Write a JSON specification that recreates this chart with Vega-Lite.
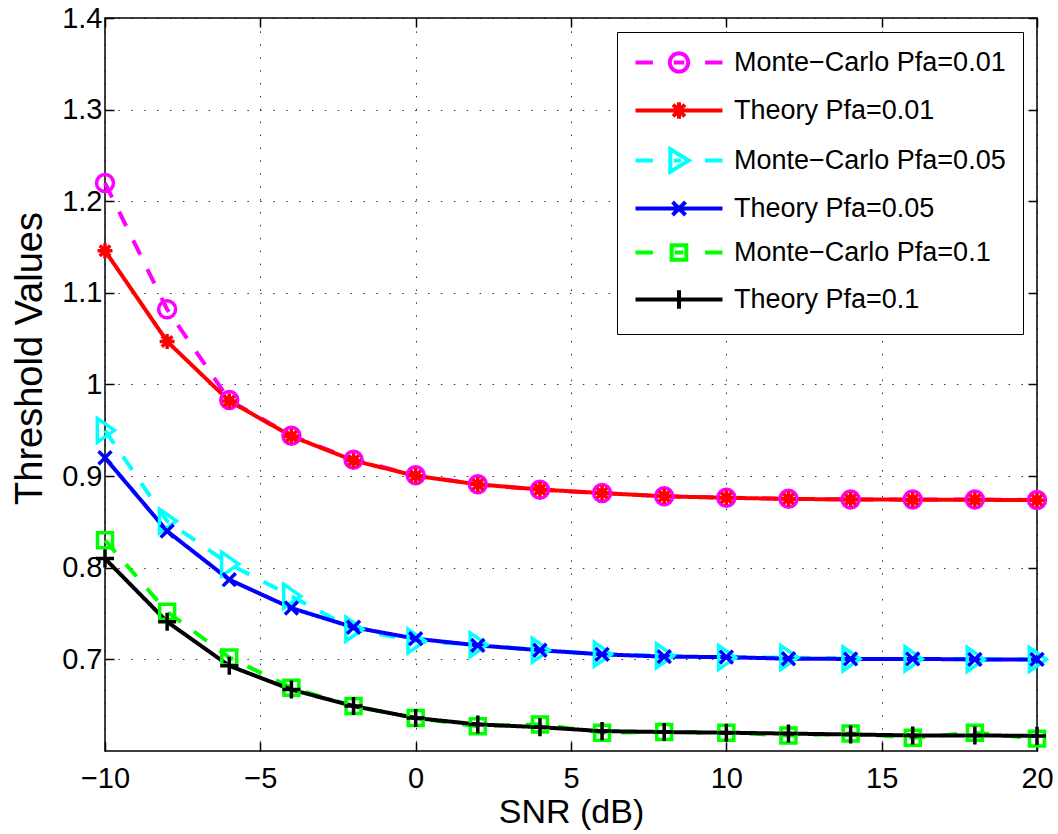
{
  "$schema": "https://vega.github.io/schema/vega-lite/v6.json",
  "width": 932,
  "height": 733,
  "autosize": {"type": "none"},
  "padding": {"left": 105, "top": 18, "right": 21, "bottom": 83},
  "background": "white",
  "config": {
    "view": {"stroke": "black", "strokeWidth": 1.5},
    "font": "Liberation Sans",
    "axis": {
      "labelFont": "Liberation Sans",
      "labelFontSize": 29,
      "labelColor": "black",
      "labelFlush": false,
      "labelOverlap": false,
      "titleFont": "Liberation Sans",
      "titleFontWeight": "normal",
      "titleColor": "black",
      "tickColor": "black",
      "tickWidth": 1.5,
      "tickSize": -9,
      "domain": false,
      "gridColor": "black",
      "gridDash": [1.5, 11.4],
      "gridWidth": 1,
      "gridOpacity": 0.8
    }
  },
  "data": {
    "values": [
      {"snr": -10, "threshold": 1.220, "series": "Monte−Carlo Pfa=0.01"},
      {"snr": -8, "threshold": 1.082, "series": "Monte−Carlo Pfa=0.01"},
      {"snr": -6, "threshold": 0.983, "series": "Monte−Carlo Pfa=0.01"},
      {"snr": -4, "threshold": 0.944, "series": "Monte−Carlo Pfa=0.01"},
      {"snr": -2, "threshold": 0.918, "series": "Monte−Carlo Pfa=0.01"},
      {"snr": 0, "threshold": 0.901, "series": "Monte−Carlo Pfa=0.01"},
      {"snr": 2, "threshold": 0.891, "series": "Monte−Carlo Pfa=0.01"},
      {"snr": 4, "threshold": 0.885, "series": "Monte−Carlo Pfa=0.01"},
      {"snr": 6, "threshold": 0.8815, "series": "Monte−Carlo Pfa=0.01"},
      {"snr": 8, "threshold": 0.878, "series": "Monte−Carlo Pfa=0.01"},
      {"snr": 10, "threshold": 0.8765, "series": "Monte−Carlo Pfa=0.01"},
      {"snr": 12, "threshold": 0.8752, "series": "Monte−Carlo Pfa=0.01"},
      {"snr": 14, "threshold": 0.8745, "series": "Monte−Carlo Pfa=0.01"},
      {"snr": 16, "threshold": 0.8745, "series": "Monte−Carlo Pfa=0.01"},
      {"snr": 18, "threshold": 0.8744, "series": "Monte−Carlo Pfa=0.01"},
      {"snr": 20, "threshold": 0.874, "series": "Monte−Carlo Pfa=0.01"},
      {"snr": -10, "threshold": 1.146, "series": "Theory Pfa=0.01"},
      {"snr": -8, "threshold": 1.047, "series": "Theory Pfa=0.01"},
      {"snr": -6, "threshold": 0.982, "series": "Theory Pfa=0.01"},
      {"snr": -4, "threshold": 0.9436, "series": "Theory Pfa=0.01"},
      {"snr": -2, "threshold": 0.917, "series": "Theory Pfa=0.01"},
      {"snr": 0, "threshold": 0.9003, "series": "Theory Pfa=0.01"},
      {"snr": 2, "threshold": 0.891, "series": "Theory Pfa=0.01"},
      {"snr": 4, "threshold": 0.8854, "series": "Theory Pfa=0.01"},
      {"snr": 6, "threshold": 0.8815, "series": "Theory Pfa=0.01"},
      {"snr": 8, "threshold": 0.878, "series": "Theory Pfa=0.01"},
      {"snr": 10, "threshold": 0.8763, "series": "Theory Pfa=0.01"},
      {"snr": 12, "threshold": 0.8752, "series": "Theory Pfa=0.01"},
      {"snr": 14, "threshold": 0.8745, "series": "Theory Pfa=0.01"},
      {"snr": 16, "threshold": 0.8743, "series": "Theory Pfa=0.01"},
      {"snr": 18, "threshold": 0.8742, "series": "Theory Pfa=0.01"},
      {"snr": 20, "threshold": 0.8738, "series": "Theory Pfa=0.01"},
      {"snr": -10, "threshold": 0.950, "series": "Monte−Carlo Pfa=0.05"},
      {"snr": -8, "threshold": 0.851, "series": "Monte−Carlo Pfa=0.05"},
      {"snr": -6, "threshold": 0.804, "series": "Monte−Carlo Pfa=0.05"},
      {"snr": -4, "threshold": 0.769, "series": "Monte−Carlo Pfa=0.05"},
      {"snr": -2, "threshold": 0.733, "series": "Monte−Carlo Pfa=0.05"},
      {"snr": 0, "threshold": 0.720, "series": "Monte−Carlo Pfa=0.05"},
      {"snr": 2, "threshold": 0.716, "series": "Monte−Carlo Pfa=0.05"},
      {"snr": 4, "threshold": 0.710, "series": "Monte−Carlo Pfa=0.05"},
      {"snr": 6, "threshold": 0.7055, "series": "Monte−Carlo Pfa=0.05"},
      {"snr": 8, "threshold": 0.704, "series": "Monte−Carlo Pfa=0.05"},
      {"snr": 10, "threshold": 0.702, "series": "Monte−Carlo Pfa=0.05"},
      {"snr": 12, "threshold": 0.702, "series": "Monte−Carlo Pfa=0.05"},
      {"snr": 14, "threshold": 0.7005, "series": "Monte−Carlo Pfa=0.05"},
      {"snr": 16, "threshold": 0.7005, "series": "Monte−Carlo Pfa=0.05"},
      {"snr": 18, "threshold": 0.700, "series": "Monte−Carlo Pfa=0.05"},
      {"snr": 20, "threshold": 0.700, "series": "Monte−Carlo Pfa=0.05"},
      {"snr": -10, "threshold": 0.920, "series": "Theory Pfa=0.05"},
      {"snr": -8, "threshold": 0.840, "series": "Theory Pfa=0.05"},
      {"snr": -6, "threshold": 0.787, "series": "Theory Pfa=0.05"},
      {"snr": -4, "threshold": 0.756, "series": "Theory Pfa=0.05"},
      {"snr": -2, "threshold": 0.735, "series": "Theory Pfa=0.05"},
      {"snr": 0, "threshold": 0.7226, "series": "Theory Pfa=0.05"},
      {"snr": 2, "threshold": 0.7153, "series": "Theory Pfa=0.05"},
      {"snr": 4, "threshold": 0.710, "series": "Theory Pfa=0.05"},
      {"snr": 6, "threshold": 0.7055, "series": "Theory Pfa=0.05"},
      {"snr": 8, "threshold": 0.703, "series": "Theory Pfa=0.05"},
      {"snr": 10, "threshold": 0.7025, "series": "Theory Pfa=0.05"},
      {"snr": 12, "threshold": 0.7007, "series": "Theory Pfa=0.05"},
      {"snr": 14, "threshold": 0.7005, "series": "Theory Pfa=0.05"},
      {"snr": 16, "threshold": 0.7005, "series": "Theory Pfa=0.05"},
      {"snr": 18, "threshold": 0.700, "series": "Theory Pfa=0.05"},
      {"snr": 20, "threshold": 0.700, "series": "Theory Pfa=0.05"},
      {"snr": -10, "threshold": 0.830, "series": "Monte−Carlo Pfa=0.1"},
      {"snr": -8, "threshold": 0.752, "series": "Monte−Carlo Pfa=0.1"},
      {"snr": -6, "threshold": 0.702, "series": "Monte−Carlo Pfa=0.1"},
      {"snr": -4, "threshold": 0.669, "series": "Monte−Carlo Pfa=0.1"},
      {"snr": -2, "threshold": 0.649, "series": "Monte−Carlo Pfa=0.1"},
      {"snr": 0, "threshold": 0.636, "series": "Monte−Carlo Pfa=0.1"},
      {"snr": 2, "threshold": 0.627, "series": "Monte−Carlo Pfa=0.1"},
      {"snr": 4, "threshold": 0.629, "series": "Monte−Carlo Pfa=0.1"},
      {"snr": 6, "threshold": 0.620, "series": "Monte−Carlo Pfa=0.1"},
      {"snr": 8, "threshold": 0.6207, "series": "Monte−Carlo Pfa=0.1"},
      {"snr": 10, "threshold": 0.620, "series": "Monte−Carlo Pfa=0.1"},
      {"snr": 12, "threshold": 0.617, "series": "Monte−Carlo Pfa=0.1"},
      {"snr": 14, "threshold": 0.619, "series": "Monte−Carlo Pfa=0.1"},
      {"snr": 16, "threshold": 0.6145, "series": "Monte−Carlo Pfa=0.1"},
      {"snr": 18, "threshold": 0.620, "series": "Monte−Carlo Pfa=0.1"},
      {"snr": 20, "threshold": 0.6135, "series": "Monte−Carlo Pfa=0.1"},
      {"snr": -10, "threshold": 0.810, "series": "Theory Pfa=0.1"},
      {"snr": -8, "threshold": 0.741, "series": "Theory Pfa=0.1"},
      {"snr": -6, "threshold": 0.693, "series": "Theory Pfa=0.1"},
      {"snr": -4, "threshold": 0.667, "series": "Theory Pfa=0.1"},
      {"snr": -2, "threshold": 0.649, "series": "Theory Pfa=0.1"},
      {"snr": 0, "threshold": 0.636, "series": "Theory Pfa=0.1"},
      {"snr": 2, "threshold": 0.629, "series": "Theory Pfa=0.1"},
      {"snr": 4, "threshold": 0.626, "series": "Theory Pfa=0.1"},
      {"snr": 6, "threshold": 0.6217, "series": "Theory Pfa=0.1"},
      {"snr": 8, "threshold": 0.6207, "series": "Theory Pfa=0.1"},
      {"snr": 10, "threshold": 0.620, "series": "Theory Pfa=0.1"},
      {"snr": 12, "threshold": 0.619, "series": "Theory Pfa=0.1"},
      {"snr": 14, "threshold": 0.618, "series": "Theory Pfa=0.1"},
      {"snr": 16, "threshold": 0.617, "series": "Theory Pfa=0.1"},
      {"snr": 18, "threshold": 0.617, "series": "Theory Pfa=0.1"},
      {"snr": 20, "threshold": 0.6165, "series": "Theory Pfa=0.1"}
    ]
  },
  "layer": [
    {
      "mark": {"type": "line", "strokeWidth": 4},
      "encoding": {
        "x": {
          "field": "snr", "type": "quantitative",
          "scale": {"domain": [-10, 20], "nice": false, "zero": false},
          "axis": {"orient": "bottom", "values": [-10, -5, 0, 5, 10, 15, 20], "grid": true, "title": "SNR (dB)", "titleFontSize": 34, "labelPadding": 22, "titlePadding": 2}
        },
        "y": {
          "field": "threshold", "type": "quantitative",
          "scale": {"domain": [0.6, 1.4], "nice": false, "zero": false},
          "axis": {"orient": "left", "values": [0.7, 0.8, 0.9, 1.0, 1.1, 1.2, 1.3, 1.4], "format": "~g", "grid": true, "title": "Threshold Values", "titleFontSize": 38, "labelPadding": 12, "titlePadding": 12, "titleY": 340}
        },
        "color": {
          "field": "series", "type": "nominal",
          "scale": {
            "domain": ["Monte−Carlo Pfa=0.01", "Theory Pfa=0.01", "Monte−Carlo Pfa=0.05", "Theory Pfa=0.05", "Monte−Carlo Pfa=0.1", "Theory Pfa=0.1"],
            "range": ["#ff00ff", "#ff0000", "#00ffff", "#0000ff", "#00ff00", "#000000"]
          },
          "legend": {
            "title": null,
            "orient": "top-right",
            "offset": 14,
            "padding": 17,
            "fillColor": "white",
            "strokeColor": "black",
            "symbolSize": 400,
            "symbolStrokeWidth": 4,
            "symbolOffset": 31.5,
            "symbolFillColor": "transparent",
            "labelFont": "Liberation Sans",
            "labelFontSize": 27,
            "labelColor": "black",
            "labelOffset": 41.5,
            "labelLimit": 500,
            "rowPadding": 14,
            "encode": {
              "symbols": {
                "update": {
                  "shape": {"signal": "datum.value === 'Monte−Carlo Pfa=0.01' ? 'M-4.35,0H-2.61M2.61,0H4.35M-0.915,0A0.915,0.915,0,1,0,0.915,0A0.915,0.915,0,1,0,-0.915,0M-0.525,0H0.525' : datum.value === 'Theory Pfa=0.01' ? 'M-4.35,0H4.35M0,-0.825V0.825M-0.585,-0.585L0.585,0.585M-0.585,0.585L0.585,-0.585' : datum.value === 'Monte−Carlo Pfa=0.05' ? 'M-4.35,0H-2.61M2.61,0H4.35M-0.87,-1.125L0.96,0L-0.87,1.125ZM-0.525,0H0.225' : datum.value === 'Theory Pfa=0.05' ? 'M-4.35,0H4.35M-0.65,-0.65L0.65,0.65M-0.65,0.65L0.65,-0.65' : datum.value === 'Monte−Carlo Pfa=0.1' ? 'M-4.35,0H-2.61M2.61,0H4.35M-0.735,-0.735H0.735V0.735H-0.735ZM-0.435,0H0.435' : 'M-4.35,0H4.35M0,-0.915V0.915'"},
                  "strokeWidth": {"value": 4},
                  "strokeDash": {"value": [1, 0]}
                }
              }
            }
          }
        },
        "strokeDash": {
          "condition": {"test": "indexof(datum.series, 'Monte') >= 0", "value": [16, 16]},
          "value": [1, 0]
        }
      }
    },
    {
      "mark": {"type": "point", "filled": false, "strokeWidth": 3.5, "opacity": 1, "size": 289},
      "encoding": {
        "x": {
          "field": "snr", "type": "quantitative",
          "axis": {"orient": "top", "values": [-10, -5, 0, 5, 10, 15, 20], "labels": false, "grid": false, "title": null}
        },
        "y": {
          "field": "threshold", "type": "quantitative",
          "axis": {"orient": "right", "values": [0.7, 0.8, 0.9, 1.0, 1.1, 1.2, 1.3, 1.4], "labels": false, "grid": false, "title": null}
        },
        "color": {"field": "series", "type": "nominal", "legend": null},
        "shape": {
          "condition": [
            {"test": "datum.series === 'Monte−Carlo Pfa=0.01'", "value": "circle"},
            {"test": "datum.series === 'Theory Pfa=0.01'", "value": "M-0.88,0H0.88M0,-0.88V0.88M-0.62,-0.62L0.62,0.62M-0.62,0.62L0.62,-0.62"},
            {"test": "datum.series === 'Monte−Carlo Pfa=0.05'", "value": "M-0.9,-1.4L1.1,0L-0.9,1.4Z"},
            {"test": "datum.series === 'Theory Pfa=0.05'", "value": "M-0.76,-0.76L0.76,0.76M-0.76,0.76L0.76,-0.76"},
            {"test": "datum.series === 'Monte−Carlo Pfa=0.1'", "value": "M-0.88,-0.88H0.88V0.88H-0.88Z"}
          ],
          "value": "M-1.06,0H1.06M0,-1.06V1.06"
        }
      }
    }
  ],
  "resolve": {"axis": {"x": "independent", "y": "independent"}}
}
